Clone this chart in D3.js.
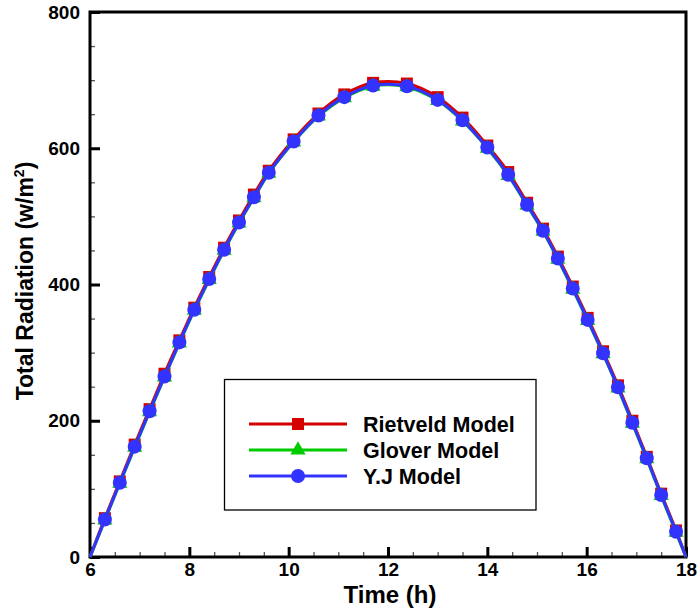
<!DOCTYPE html>
<html><head><meta charset="utf-8">
<script src="https://cdn.jsdelivr.net/npm/d3@7"></script>
<style>body{margin:0;background:#fff}svg{display:block}text{font-family:"Liberation Sans",Arial,sans-serif;font-weight:bold}</style>
</head><body><svg id="c" width="698" height="613"></svg>
<script>
const times    = [6, 6.3, 6.6, 6.9, 7.2, 7.5, 7.8, 8.1, 8.4, 8.7, 9.0, 9.3, 9.6, 10.1, 10.6, 11.12, 11.7, 12.38, 13.0, 13.5, 14.0, 14.42, 14.8, 15.12, 15.42, 15.72, 16.02, 16.33, 16.63, 16.92, 17.21, 17.5, 17.8, 18];
const rietveld = [0, 57, 111, 165, 217, 269, 318, 366, 411, 454, 494, 532, 567, 613, 651, 679, 696, 695, 675, 645, 604, 565, 520, 482, 441, 397, 351, 302, 252, 200, 147, 93, 39, 0];
const glover   = [0, 54, 108, 161, 213, 264, 314, 362, 407, 450, 490, 527, 563, 609, 647, 674, 691, 690, 670, 640, 600, 560, 516, 478, 437, 393, 347, 298, 248, 196, 144, 90, 36, 0];
const yj       = [0, 55, 109, 162, 214, 265, 315, 363, 408, 451, 491, 528, 564, 610, 648, 675, 692, 691, 671, 641, 601, 561, 517, 479, 438, 394, 348, 299, 249, 197, 145, 91, 37, 0];
const seriesNames = ["Rietveld Model", "Glover Model", "Y.J Model"];
const xTicks = [6, 8, 10, 12, 14, 16, 18];
const yTicks = [0, 200, 400, 600, 800];

const svg = d3.select("#c");
const L = 90, R = 686, T = 12, B = 557;
const x = d3.scaleLinear().domain([6, 18]).range([L, R]);
const y = d3.scaleLinear().domain([0, 800]).range([B, T]);
const FONT = '"Liberation Sans",Arial,sans-serif';

// minor ticks
const xMinor = d3.range(6, 18.01, 0.5).filter(v => !xTicks.includes(v));
const yMinor = d3.range(0, 800.1, 50).filter(v => !yTicks.includes(v));
svg.append("g").attr("transform", `translate(0,${B})`)
  .call(d3.axisBottom(x).tickValues(xMinor).tickSize(-5).tickFormat(""))
  .call(g => { g.select(".domain").remove(); g.selectAll("line").attr("stroke", "#555").attr("stroke-width", 1.3); });
svg.append("g").attr("transform", `translate(${L},0)`)
  .call(d3.axisLeft(y).tickValues(yMinor).tickSize(-5).tickFormat(""))
  .call(g => { g.select(".domain").remove(); g.selectAll("line").attr("stroke", "#555").attr("stroke-width", 1.3); });
// major ticks
svg.append("g").attr("transform", `translate(0,${B})`)
  .call(d3.axisBottom(x).tickValues(xTicks).tickSize(-10).tickPadding(6).tickFormat(d3.format("d")))
  .call(g => { g.select(".domain").remove(); g.selectAll("line").attr("stroke", "#000").attr("stroke-width", 3);
    g.selectAll("text").attr("font-size", 19).attr("fill", "#000").attr("font-family", FONT).attr("font-weight", "bold"); });
svg.append("g").attr("transform", `translate(${L},0)`)
  .call(d3.axisLeft(y).tickValues(yTicks).tickSize(-10).tickPadding(10).tickFormat(d3.format("d")))
  .call(g => { g.select(".domain").remove(); g.selectAll("line").attr("stroke", "#000").attr("stroke-width", 3);
    g.selectAll("text").attr("font-size", 19).attr("fill", "#000").attr("font-family", FONT).attr("font-weight", "bold"); });

// frame
svg.append("rect").attr("x", L).attr("y", T).attr("width", R - L).attr("height", B - T)
  .attr("fill", "none").attr("stroke", "#000").attr("stroke-width", 3);

const colors = ["#d40000", "#00cc00", "#3333ff"];
const data = [rietveld, glover, yj];
const line = d3.line().x(d => x(d[0])).y(d => y(d[1])).curve(d3.curveCatmullRom.alpha(0.5));

function marker(g, i, cx, cy) {
  if (i === 0) g.append("rect").attr("x", cx - 6).attr("y", cy - 6).attr("width", 12).attr("height", 12).attr("fill", colors[i]);
  else if (i === 1) g.append("path").attr("d", d3.symbol(d3.symbolTriangle, 100)()).attr("transform", `translate(${cx},${cy})`).attr("fill", colors[i]);
  else g.append("circle").attr("cx", cx).attr("cy", cy).attr("r", 7).attr("fill", colors[i]);
}

data.forEach((vals, i) => {
  const pts = times.map((t, k) => [t, vals[k]]);
  const g = svg.append("g");
  g.append("path").attr("d", line(pts)).attr("fill", "none").attr("stroke", colors[i]).attr("stroke-width", 3);
  pts.slice(1, -1).forEach(p => marker(g, i, x(p[0]), y(p[1])));
});

// legend
const lg = svg.append("g");
lg.append("rect").attr("x", 224.5).attr("y", 379.5).attr("width", 311.5).attr("height", 130.5)
  .attr("fill", "#fff").attr("stroke", "#000").attr("stroke-width", 1.3);
seriesNames.forEach((n, i) => {
  const yy = 424 + i * 26;
  lg.append("line").attr("x1", 249).attr("x2", 347).attr("y1", yy).attr("y2", yy).attr("stroke", colors[i]).attr("stroke-width", 3);
  marker(lg, i, 298, yy);
  lg.append("text").attr("x", 363).attr("y", yy + 7.5).attr("font-size", 21.5).text(n);
});

// axis titles
svg.append("text").attr("x", 390).attr("y", 603).attr("text-anchor", "middle").attr("font-size", 24).text("Time (h)");
const yt = svg.append("text").attr("transform", "translate(33,281) rotate(-90)").attr("text-anchor", "middle").attr("font-size", 23);
yt.append("tspan").text("Total Radiation (w/m");
yt.append("tspan").attr("font-size", 14).attr("dy", -9).text("2");
yt.append("tspan").attr("dy", 9).text(")");
</script></body></html>
